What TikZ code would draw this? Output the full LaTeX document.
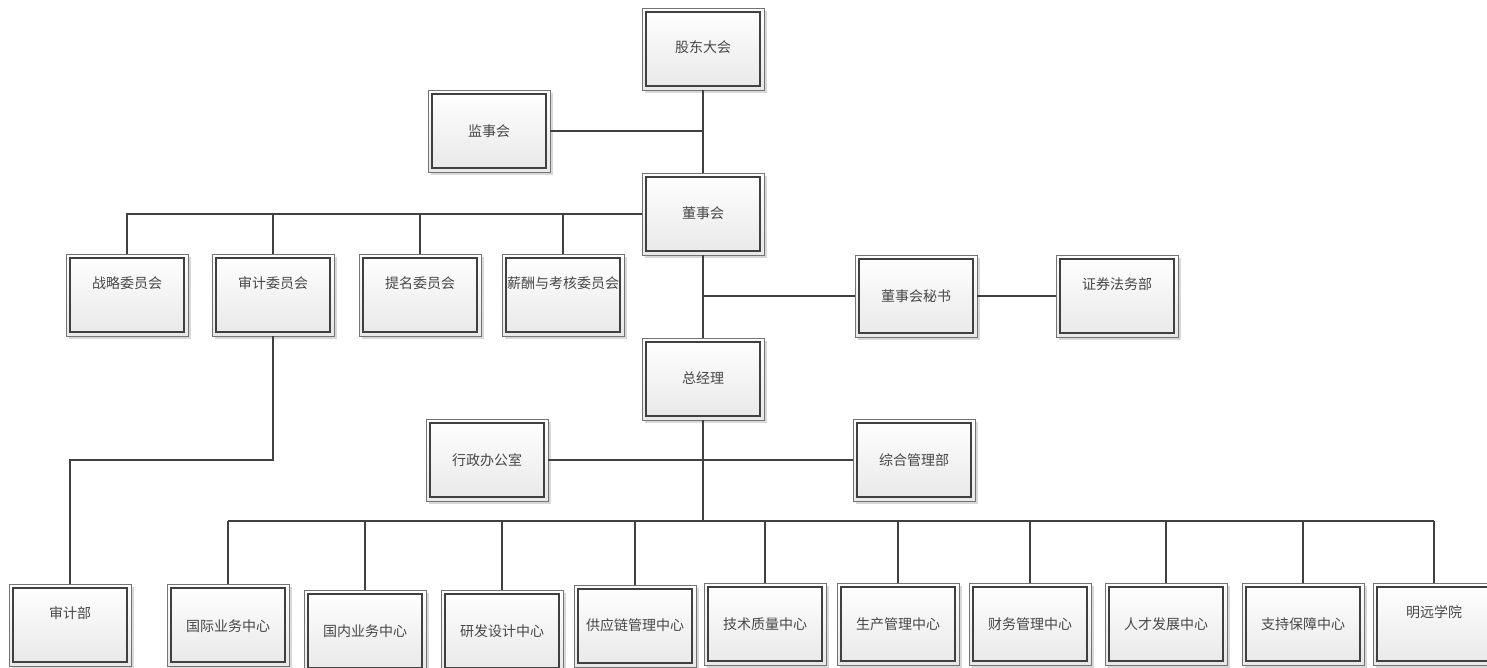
\documentclass[tikz,border=0pt]{standalone}
\usepackage{fontspec}
\newfontfamily\cjk{Noto Sans CJK SC}
\usetikzlibrary{shadows}
\newcommand\obox[5]{\node[orgbox] (#1) at (#2,-#3) {};\node[lbl] (#1-t) at (#2,-#5) {#4};}
\begin{document}
\begin{tikzpicture}[x=1pt,y=1pt,
 orgbox/.style={draw=black!55, line width=0.8pt, minimum width=122pt, minimum height=82pt,
   inner sep=0pt, outer sep=0pt, top color=white, bottom color=black!9,
   drop shadow={shadow xshift=2.5pt, shadow yshift=-2.5pt, fill=black!30, opacity=0.5},
   path picture={\draw[line width=1.5pt, black!75]
     ([shift={(4pt,-4pt)}]path picture bounding box.north west) rectangle
     ([shift={(-4pt,4pt)}]path picture bounding box.south east);}},
 lbl/.style={font=\cjk\fontsize{14pt}{16pt}\selectfont, text=black!72, inner sep=0pt},
 link/.style={line width=2.2pt, draw=black!75}]
\useasboundingbox (0,0) rectangle (1487,-667);
\clip (0,0) rectangle (1487,-667);
\fill[white] (0,0) rectangle (1487,-667);
% boxes
\obox{gd}{703}{49}{股东大会}{47}
\obox{jsh}{489}{131}{监事会}{131}
\obox{dsh}{703}{214}{董事会}{213}
\obox{zl}{127}{295}{战略委员会}{283}
\obox{sj}{273}{295}{审计委员会}{283}
\obox{tm}{420}{295}{提名委员会}{283}
\obox{xc}{563}{295}{薪酬与考核委员会}{283}
\obox{ms}{916}{296}{董事会秘书}{296}
\obox{zq}{1117}{296}{证券法务部}{284}
\obox{zjl}{703}{379}{总经理}{378}
\obox{xz}{487}{460}{行政办公室}{460}
\obox{zh}{914}{460}{综合管理部}{460}
\obox{sjb}{70}{625}{审计部}{613}
\obox{gj}{228}{625}{国际业务中心}{626}
\obox{gn}{365}{631}{国内业务中心}{631}
\obox{yf}{502}{631}{研发设计中心}{631}
\obox{gyl}{635}{626}{供应链管理中心}{625}
\obox{js}{765}{624}{技术质量中心}{624}
\obox{sc}{898}{624}{生产管理中心}{624}
\obox{cw}{1030}{624}{财务管理中心}{624}
\obox{rc}{1166}{624}{人才发展中心}{624}
\obox{zc}{1303}{624}{支持保障中心}{624}
\obox{my}{1434}{624}{明远学院}{612}
% connectors
\coordinate (busA) at (dsh.south |- ms.west);
\coordinate (busC) at (703,-521);
\coordinate (audA) at (273,-460);
\draw[link] (gd.south) -- (dsh.north);
\draw[link] (jsh.east) -- (jsh.east -| gd.south);
\draw[link] (dsh.west) -- (dsh.west -| zl.north) -- (zl.north);
\draw[link] (sj.north) -- (sj.north |- dsh.west);
\draw[link] (tm.north) -- (tm.north |- dsh.west);
\draw[link] (xc.north) -- (xc.north |- dsh.west);
\draw[link] (dsh.south) -- (zjl.north);
\draw[link] (busA) -- (ms.west);
\draw[link] (ms.east) -- (zq.west);
\draw[link] (sj.south) -- (audA) -- (audA -| sjb.north) -- (sjb.north);
\draw[link] (zjl.south) -- (busC);
\draw[link] (xz.east) -- (zh.west);
\draw[link] (busC -| gj.north) -- (busC -| my.north);
\foreach \n in {gj,gn,yf,gyl,js,sc,cw,rc,zc,my}{
  \draw[link] (\n.north) -- (\n.north |- busC);
}
\end{tikzpicture}
\end{document}
